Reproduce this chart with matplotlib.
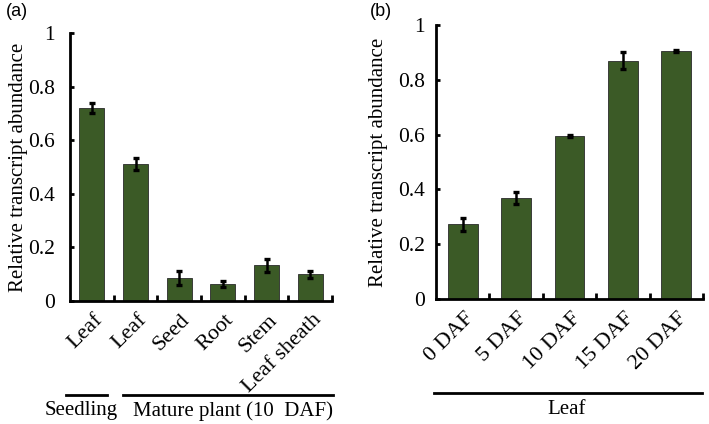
import matplotlib
matplotlib.use("Agg")
import matplotlib.pyplot as plt
import numpy as np

# ---- data ----
cats_a = ["Leaf", "Leaf", "Seed", "Root", "Stem", "Leaf sheath"]
vals_a = [0.72, 0.512, 0.085, 0.063, 0.133, 0.099]
errs_a = [0.018, 0.023, 0.026, 0.012, 0.024, 0.014]

cats_b = ["0 DAF", "5 DAF", "10 DAF", "15 DAF", "20 DAF"]
vals_b = [0.272, 0.368, 0.596, 0.870, 0.905]
errs_b = [0.025, 0.022, 0.004, 0.030, 0.004]

yticks = [0, 0.2, 0.4, 0.6, 0.8, 1]
ytick_labels = ["0", "0.2", "0.4", "0.6", "0.8", "1"]

W, H = 709, 424
fig = plt.figure(figsize=(W / 100, H / 100), dpi=100)

serif = "Liberation Serif"
sans = "Liberation Sans"
bar_color = "#3b5a26"


def px(x0, y_top, x1, y_bot):
    return [x0 / W, 1 - y_bot / H, (x1 - x0) / W, (y_bot - y_top) / H]


def panel(rect, cats, vals, errs, bw, tpad, lab_x):
    ax = fig.add_axes(rect)
    n = len(cats)
    x = np.arange(n) + 0.5
    ax.bar(x, vals, width=bw, color=bar_color, edgecolor="#2a2a2a", linewidth=0.6, zorder=2)
    ax.errorbar(x, vals, yerr=errs, fmt="none", ecolor="black", elinewidth=1.8,
                capsize=2.5, capthick=2.4, zorder=3)
    ax.set_xlim(0, n)
    ax.set_ylim(0, 1)
    for s in ["top", "right"]:
        ax.spines[s].set_visible(False)
    for s in ["left", "bottom"]:
        ax.spines[s].set_linewidth(2)
        ax.spines[s].set_color("black")
    ax.set_yticks(yticks)
    ax.set_yticklabels(ytick_labels, fontfamily=serif, fontsize=15.5)
    ax.tick_params(axis="y", direction="in", length=3, width=2, pad=tpad)
    # boundary ticks on x (inward)
    ax.set_xticks(np.arange(1, n + 1), minor=True)
    ax.tick_params(axis="x", which="minor", direction="in", length=4, width=2)
    ax.set_xticks(x)
    ax.set_xticklabels([])
    ax.tick_params(axis="x", which="major", length=0)
    ax.set_ylabel("Relative transcript abundance", fontfamily=serif, fontsize=15)
    ax.yaxis.set_label_coords(lab_x, 0.5)
    for xi, c in zip(x, cats):
        ax.annotate(c, xy=(xi, 0), xycoords=("data", "axes fraction"),
                    xytext=(1, -7), textcoords="offset points",
                    rotation=45, ha="right", va="top", rotation_mode="anchor",
                    fontfamily=serif, fontsize=16)
    return ax


ax_a = panel(px(70, 33, 332, 301), cats_a, vals_a, errs_a, 0.57, 11, (28 - 70) / 262)
ax_b = panel(px(436, 25, 703, 299), cats_b, vals_b, errs_b, 0.56, 8, (388 - 436) / 267)

# group lines and labels (figure pixel coords)
def hline(x0, x1, y):
    fig.add_artist(plt.Line2D([x0 / W, x1 / W], [1 - y / H, 1 - y / H], color="black", lw=2))

def ftext(x, y, s, **kw):
    fig.text(x / W, 1 - y / H, s, **kw)

hline(66, 107, 395)
hline(123, 333, 395)
ftext(81, 411, "Seedling", ha="center", va="center", fontfamily=serif, fontsize=15)
ftext(233, 411, "Mature plant (10  DAF)", ha="center", va="center", fontfamily=serif, fontsize=15)

hline(434, 702, 393)
ftext(567, 409, "Leaf", ha="center", va="center", fontfamily=serif, fontsize=15)

ftext(17, 12, "(a)", ha="center", va="center", fontfamily=sans, fontsize=13)
ftext(381, 12, "(b)", ha="center", va="center", fontfamily=sans, fontsize=13)

fig.savefig("out.png", dpi=100)
